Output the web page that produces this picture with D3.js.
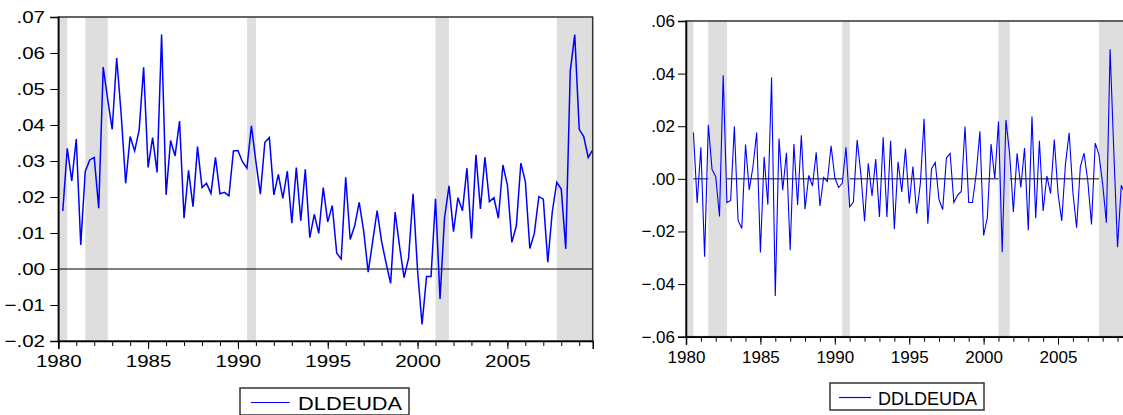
<!DOCTYPE html>
<html>
<head>
<meta charset="utf-8">
<script src="https://cdn.jsdelivr.net/npm/d3@7"></script>
<style>
  body { margin: 0; background: #fff; }
  svg { display: block; font-family: "Liberation Sans", Arial, Helvetica, sans-serif; }
  .tick text { font-size: 17px; fill: #000; }
  .tick line { stroke: #000; }
</style>
</head>
<body>
<div id="chart"></div>
<script>
// quarterly growth of debt, 1980Q2 - 2009Q4
var dldeuda = [
  .0161, .0335, .0245, .0361, .0067, .0271, .0303, .0310, .0169, .0561,
  .0471, .0388, .0586, .0430, .0238, .0368, .0328, .0386, .0560, .0282,
  .0365, .0268, .0651, .0206, .0357, .0314, .0411, .0141, .0274, .0173,
  .0340, .0226, .0238, .0210, .0310, .0209, .0213, .0203, .0328, .0329,
  .0298, .0280, .0398, .0298, .0208, .0352, .0365, .0206, .0263, .0196,
  .0272, .0127, .0282, .0134, .0277, .0087, .0152, .0099, .0226, .0131,
  .0176, .0044, .0028, .0255, .0082, .0120, .0185, .0106, -.0009, .0076,
  .0162, .0076, .0016, -.0040, .0158, .0062, -.0024, .0030, .0209, -.0005,
  -.0154, -.0021, -.0021, .0195, -.0083, .0141, .0231, .0104, .0198, .0162,
  .0280, .0085, .0317, .0167, .0310, .0187, .0198, .0141, .0289, .0234,
  .0074, .0120, .0294, .0243, .0057, .0099, .0201, .0194, .0019, .0159,
  .0241, .0222, .0056, .0549, .0651, .0388, .0368, .0310, .0331
];

// its first difference, 1980Q3 - 2009Q4
var ddldeuda = [
  .0176, -.0092, .0120, -.0296, .0205, .0036, .0008, -.0143, .0394, -.0090,
  -.0082, .0200, -.0158, -.0189, .0130, -.0042, .0046, .0176, -.0280, .0084,
  -.0098, .0385, -.0445, .0153, -.0043, .0099, -.0271, .0132, -.0099, .0166,
  -.0115, .0013, -.0027, .0101, -.0103, .0005, -.0010, .0126, .0005, -.0033,
  -.0017, .0120, -.0106, -.0088, .0148, .0020, -.0161, .0059, -.0065, .0075,
  -.0145, .0158, -.0145, .0145, -.0191, .0065, -.0050, .0115, -.0094, .0047,
  -.0132, -.0017, .0228, -.0171, .0039, .0062, -.0078, -.0117, .0079, .0097,
  -.0090, -.0062, -.0048, .0199, -.0090, -.0090, .0018, .0181, -.0215, -.0148,
  .0132, .0001, .0218, -.0279, .0224, .0094, -.0126, .0097, -.0033, .0117,
  -.0195, .0237, -.0150, .0145, -.0122, .0011, -.0056, .0149, -.0055, -.0160,
  .0056, .0175, -.0052, -.0186, .0046, .0098, -.0007, -.0173, .0136, .0092,
  -.0019, -.0167, .0493, .0102, -.0260, -.0024, -.0058, .0030
];

// shaded recession periods (start, end) in fractional years
var recessions = [[1980, 1980.5], [1981.5, 1982.75], [1990.5, 1991], [2001, 2001.75], [2007.75, 2009.75]];

var yearTicks = d3.range(1980, 2010);
var yearLabels = [1980, 1985, 1990, 1995, 2000, 2005];
var yTicksLeft = [-.02, -.01, 0, .01, .02, .03, .04, .05, .06, .07];
var yTicksRight = [-.06, -.04, -.02, 0, .02, .04, .06];

var svgWidth = 1123;
var svgHeight = 415;

var svg = d3.select('#chart').append('svg')
  .attr('width', svgWidth)
  .attr('height', svgHeight);

function fmt(d) {
  return d3.format('.2f')(d).replace('0.', '.');
}

function drawPanel(opt) {
  var x = d3.scaleLinear().domain([1980, 2009.75]).range([opt.left, opt.right]);
  var y = d3.scaleLinear().domain(opt.yDomain).range([opt.bottom, opt.top]);
  var stretch = 'scale(' + opt.stretch + ',1)';
  var g = svg.append('g');

  var line = d3.line()
    .x(function (d, i) { return x(opt.start + i / 4); })
    .y(function (d) { return y(d); });

  var zero = function (sel) {
    sel.append('line')
      .attr('x1', opt.left).attr('x2', opt.right)
      .attr('y1', y(0)).attr('y2', y(0))
      .attr('stroke', '#000').attr('stroke-width', 1);
  };

  if (!opt.zeroOnTop) zero(g);

  g.selectAll('rect.rec')
    .data(recessions)
    .enter()
    .append('rect')
    .attr('class', 'rec')
    .attr('x', function (d) { return x(d[0]); })
    .attr('width', function (d) { return x(d[1]) - x(d[0]); })
    .attr('y', opt.top)
    .attr('height', opt.bottom - opt.top)
    .attr('fill', '#dedede');

  if (opt.zeroOnTop) zero(g);

  g.append('path')
    .datum(opt.values)
    .attr('d', line)
    .attr('fill', 'none')
    .attr('stroke', '#0000ff')
    .attr('stroke-width', opt.lineWidth)
    .attr('stroke-linejoin', 'miter');

  // frame
  g.append('rect')
    .attr('x', opt.left).attr('y', opt.top)
    .attr('width', opt.right - opt.left).attr('height', opt.bottom - opt.top)
    .attr('fill', 'none').attr('stroke', '#333').attr('stroke-width', 1.5);

  // minor year ticks
  g.append('g')
    .attr('transform', 'translate(0,' + opt.bottom + ')')
    .call(d3.axisBottom(x).tickValues(yearTicks).tickSize(5).tickFormat(''))
    .call(function (a) { a.select('.domain').remove(); });

  var xAxis = g.append('g')
    .attr('transform', 'translate(0,' + opt.bottom + ')')
    .call(d3.axisBottom(x).tickValues(yearLabels).tickSize(8).tickPadding(6).tickFormat(d3.format('d')));
  xAxis.select('.domain').attr('stroke', '#000').attr('stroke-width', 1.5);
  xAxis.selectAll('text').attr('transform', stretch);

  var yAxis = g.append('g')
    .attr('transform', 'translate(' + opt.left + ',0)')
    .call(d3.axisLeft(y).tickValues(opt.yTicks).tickSize(8).tickPadding(3).tickFormat(fmt));
  yAxis.select('.domain').attr('stroke', '#000').attr('stroke-width', 1.5);
  yAxis.selectAll('text').attr('transform', stretch);

  // legend
  var lg = svg.append('g');
  lg.append('rect')
    .attr('x', opt.legend.x).attr('y', opt.legend.y)
    .attr('width', opt.legend.w).attr('height', 27)
    .attr('fill', '#fff').attr('stroke', '#333').attr('stroke-width', 1.5);
  lg.append('line')
    .attr('x1', opt.legend.x + 9 * opt.stretch).attr('x2', opt.legend.x + 41 * opt.stretch)
    .attr('y1', opt.legend.y + 14.5).attr('y2', opt.legend.y + 14.5)
    .attr('stroke', '#0000ff').attr('stroke-width', 1.2);
  lg.append('text')
    .attr('transform', 'translate(' + (opt.legend.x + 48 * opt.stretch) + ',' + (opt.legend.y + 21.5) + ') ' + stretch)
    .attr('font-size', 18)
    .attr('fill', '#000')
    .text(opt.name);
}

drawPanel({
  name: 'DLDEUDA', values: dldeuda, start: 1980.25,
  left: 58.3, right: 592.7, top: 17, bottom: 341,
  yDomain: [-.02, .07], yTicks: yTicksLeft,
  stretch: 1.21, lineWidth: 1.5, zeroOnTop: true,
  legend: { x: 240, y: 388, w: 169 }
});

drawPanel({
  name: 'DDLDEUDA', values: ddldeuda, start: 1980.5,
  left: 686, right: 1128.7, top: 21, bottom: 336.7,
  yDomain: [-.06, .06], yTicks: yTicksRight,
  stretch: 1, lineWidth: 1.1, zeroOnTop: false,
  legend: { x: 830, y: 383, w: 154 }
});
</script>
</body>
</html>
